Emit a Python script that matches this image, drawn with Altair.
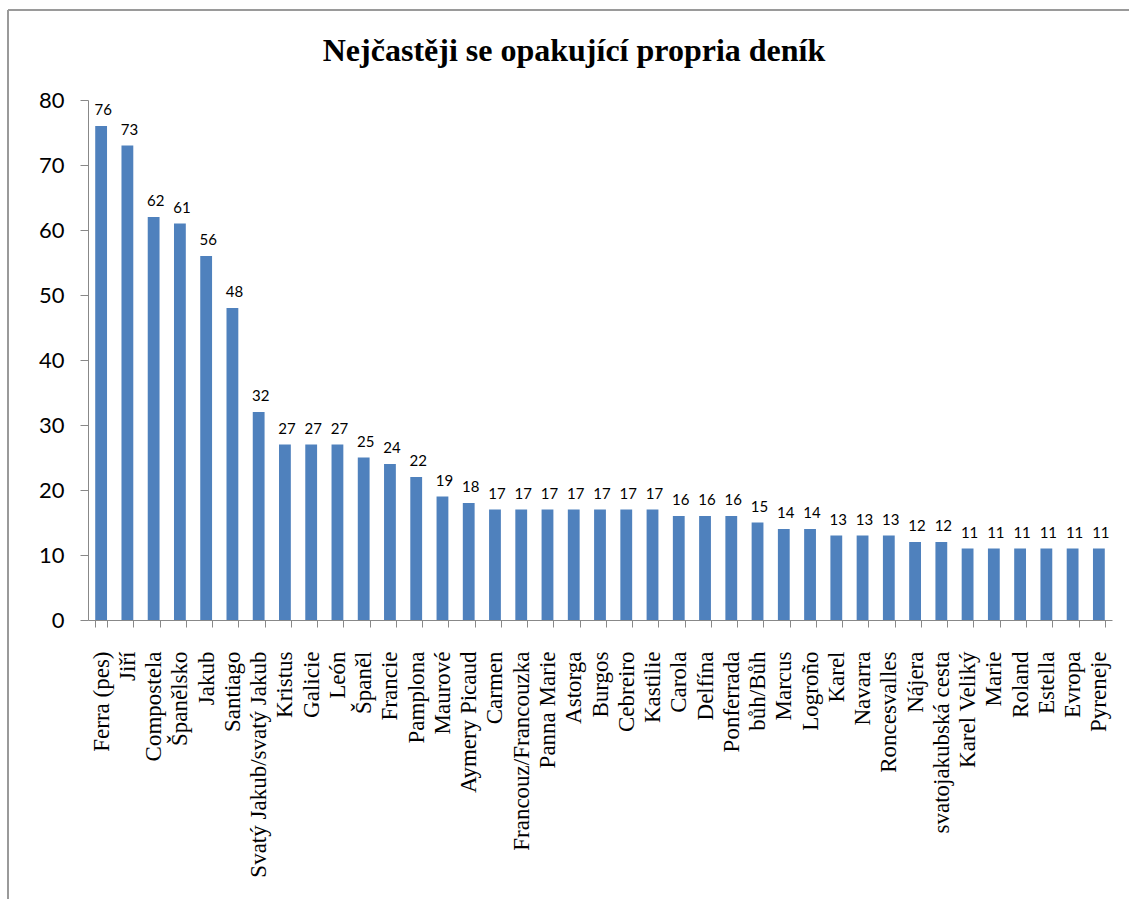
import altair as alt
import pandas as pd

names = ["Ferra (pes)", "Jiří", "Compostela", "Španělsko", "Jakub", "Santiago",
         "Svatý Jakub/svatý Jakub", "Kristus", "Galicie", "León", "Španěl", "Francie",
         "Pamplona", "Maurové", "Aymery Picaud", "Carmen", "Francouz/Francouzka",
         "Panna Marie", "Astorga", "Burgos", "Cebreiro", "Kastilie", "Carola", "Delfína",
         "Ponferrada", "bůh/Bůh", "Marcus", "Logroño", "Karel", "Navarra", "Roncesvalles",
         "Nájera", "svatojakubská cesta", "Karel Veliký", "Marie", "Roland", "Estella",
         "Evropa", "Pyreneje"]
counts = [76, 73, 62, 61, 56, 48, 32, 27, 27, 27, 25, 24, 22, 19, 18, 17, 17, 17, 17,
          17, 17, 17, 16, 16, 16, 15, 14, 14, 13, 13, 13, 12, 12, 11, 11, 11, 11, 11, 11]
y_ticks = [0, 10, 20, 30, 40, 50, 60, 70, 80]
title_text = "Nejčastěji se opakující propria deník"

df = pd.DataFrame({"name": names, "count": counts})

x_enc = alt.X("name:N", sort=names, title=None,
              scale=alt.Scale(paddingInner=0.55, paddingOuter=0.275),
              axis=alt.Axis(labelAngle=270, labelFont="Liberation Serif", labelFontSize=23,
                            labelColor="black", labelLimit=400, labelOverlap=False,
                            labelPadding=24, tickSize=7, tickColor="#888888",
                            domainColor="#888888", bandPosition=0, tickBand="extent"))
y_enc = alt.Y("count:Q", title=None,
              scale=alt.Scale(domain=[0, 80], nice=False),
              axis=alt.Axis(values=y_ticks, grid=False, labelFont="Lato", labelFontSize=22,
                            labelColor="black", labelPadding=16, tickSize=8,
                            tickColor="#888888", domainColor="#888888"))

bars = alt.Chart(df).mark_bar(color="#4F81BD").encode(x=x_enc, y=y_enc)
labels = alt.Chart(df).mark_text(baseline="bottom", dy=-8, dx=2, font="Lato",
                                 fontSize=15, color="black").encode(
    x=alt.X("name:N", sort=names), y="count:Q", text="count:Q")

frame_left = alt.Chart(pd.DataFrame({"k": [0]})).mark_rule(color="#9a9a9a", strokeWidth=2).encode(
    x=alt.value(-80), y=alt.value(-90), y2=alt.value(799))
frame_top = alt.Chart(pd.DataFrame({"k": [0]})).mark_rule(color="#9a9a9a", strokeWidth=2).encode(
    x=alt.value(-80), x2=alt.value(1041), y=alt.value(-90))

chart = alt.layer(bars, labels, frame_left, frame_top).properties(
    width=1024, height=520,
    title=alt.TitleParams(title_text, font="Liberation Serif", fontSize=32, fontWeight="bold",
                          color="black", anchor="middle", dx=-26, offset=-59),
    autosize=alt.AutoSizeParams(type="none"),
    padding={"left": 88, "top": 100, "right": 17, "bottom": 279},
).configure_view(stroke=None)

chart.save("out.html", embed_options={"renderer": "svg", "actions": False})
